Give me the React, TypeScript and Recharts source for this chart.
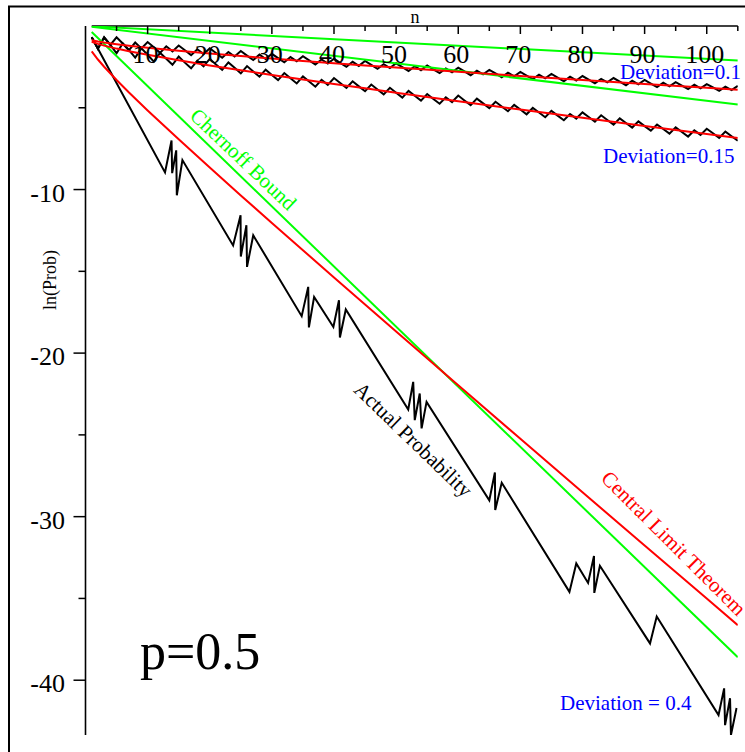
import React from 'react';
import { LineChart, Line, XAxis, YAxis, ReferenceLine } from 'recharts';

// ---------- data ----------
const nSteps = [
  1, 2, 3, 4, 5, 6, 7, 8, 9, 10, 11, 12, 13, 14, 15, 16, 17, 18, 19, 20,
  21, 22, 23, 24, 25, 26, 27, 28, 29, 30, 31, 32, 33, 34, 35, 36, 37, 38, 39, 40,
  41, 42, 43, 44, 45, 46, 47, 48, 49, 50, 51, 52, 53, 54, 55, 56, 57, 58, 59, 60,
  61, 62, 63, 64, 65, 66, 67, 68, 69, 70, 71, 72, 73, 74, 75, 76, 77, 78, 79, 80,
  81, 82, 83, 84, 85, 86, 87, 88, 89, 90, 91, 92, 93, 94, 95, 96, 97, 98, 99, 100,
  101, 102, 103, 104, 105,
];

// Actual probability, deviation 0.1
const actual01 = [
  -0.69, -1.39, -0.69, -1.16, -0.69, -1.07, -1.48, -1.01, -1.37, -0.98,
  -1.30, -1.64, -1.24, -1.55, -1.19, -1.48, -1.78, -1.42, -1.72, -1.36,
  -1.65, -1.94, -1.59, -1.87, -1.53, -1.81, -2.08, -1.75, -2.02, -1.70,
  -1.96, -2.22, -1.90, -2.16, -1.85, -2.10, -2.36, -2.05, -2.30, -2.00,
  -2.25, -2.49, -2.19, -2.44, -2.14, -2.38, -2.62, -2.33, -2.57, -2.28,
  -2.52, -2.75, -2.46, -2.70, -2.41, -2.65, -2.88, -2.60, -2.83, -2.55,
  -2.78, -3.01, -2.73, -2.95, -2.68, -2.90, -3.13, -2.85, -3.08, -2.81,
  -3.03, -3.25, -2.98, -3.20, -2.93, -3.15, -3.38, -3.10, -3.33, -3.06,
  -3.28, -3.50, -3.23, -3.45, -3.18, -3.40, -3.62, -3.35, -3.57, -3.30,
  -3.52, -3.74, -3.47, -3.69, -3.43, -3.64, -3.85, -3.59, -3.81, -3.55,
  -3.76, -3.97, -3.71, -3.92, -3.66,
];

// Actual probability, deviation 0.15
const actual015 = [
  -0.69, -1.39, -0.69, -1.16, -1.67, -1.07, -1.48, -1.93, -1.37, -1.76,
  -2.18, -1.64, -2.00, -2.37, -1.87, -2.24, -2.59, -2.12, -2.47, -2.01,
  -2.35, -2.68, -2.23, -2.56, -2.90, -2.45, -2.78, -3.10, -2.67, -2.99,
  -3.31, -2.88, -3.20, -3.51, -3.08, -3.40, -3.71, -3.29, -3.60, -3.18,
  -3.49, -3.79, -3.38, -3.69, -3.99, -3.58, -3.88, -4.18, -3.78, -4.08,
  -4.38, -3.97, -4.27, -4.56, -4.16, -4.46, -4.75, -4.36, -4.65, -4.25,
  -4.55, -4.84, -4.44, -4.73, -5.02, -4.63, -4.92, -5.21, -4.82, -5.11,
  -5.40, -5.01, -5.29, -5.58, -5.19, -5.48, -5.76, -5.38, -5.66, -5.28,
  -5.56, -5.85, -5.46, -5.75, -6.03, -5.65, -5.93, -6.21, -5.83, -6.12,
  -6.40, -6.02, -6.30, -6.58, -6.20, -6.48, -6.76, -6.38, -6.66, -6.28,
  -6.56, -6.84, -6.46, -6.74, -7.02,
];

// Actual probability, deviation 0.4 (vertices)
const n04 = [
  1, 12.8, 13.85, 13.95, 14.6, 14.7, 15.6, 23.76, 24.96, 25.0, 25.9, 26.0, 27.0,
  34.8, 35.85, 35.96, 36.8, 39.9, 40.8, 40.95, 41.9, 51.95, 52.75, 53.0, 53.8,
  54.1, 54.9, 65.0, 65.9, 65.95, 67.0, 77.9, 79.0, 80.9, 81.85, 81.9, 82.8,
  90.87, 91.95, 101.9, 102.8, 102.95, 103.75, 103.9, 104.8,
];
const actual04 = [
  -0.69, -8.95, -7.0, -9.0, -7.6, -10.35, -8.2, -13.42, -11.57, -14.1, -12.18, -14.73, -12.8,
  -17.74, -15.95, -18.43, -16.56, -18.4, -16.77, -19.05, -17.33, -23.45, -21.76, -24.1, -22.47,
  -24.6, -22.98, -29.0, -27.3, -29.6, -27.93, -34.6, -32.86, -34.05, -32.4, -34.66, -33.0,
  -37.75, -36.1, -42.13, -40.5, -42.75, -41.1, -43.35, -41.7,
];

// Central Limit Theorem curves
const nClt = [1, 2, 3, 5, 7, 10, 15, 20, 25, 30, 35, 40, 45, 50, 60, 70, 80, 90, 100, 105];
const clt01 = [-0.866, -0.945, -1.009, -1.117, -1.209, -1.333, -1.517, -1.685, -1.84, -1.99,
  -2.134, -2.273, -2.41, -2.543, -2.802, -3.054, -3.302, -3.544, -3.783, -3.9];
const clt015 = [-0.962, -1.092, -1.199, -1.382, -1.544, -1.764, -2.099, -2.409, -2.7, -2.992,
  -3.27, -3.544, -3.81, -4.077, -4.598, -5.109, -5.613, -6.115, -6.608, -6.853];
const clt04 = [-1.552, -2.048, -2.49, -3.3, -4.067, -5.167, -6.924, -8.655, -10.36, -12.04,
  -13.71, -15.375, -17.03, -18.68, -21.97, -25.24, -28.51, -31.76, -35.01, -36.64];

// Chernoff bounds (straight lines)
const nChern = [1, 105];
const chern01 = [-0.02, -2.11];
const chern015 = [-0.05, -4.8];
const chern04 = [-0.37, -38.6];

// Axis ticks
const xTicks = [5, 10, 15, 20, 25, 30, 35, 40, 45, 50, 55, 60, 65, 70, 75, 80, 85, 90, 95, 100, 105];
const yTicks = [-5, -10, -15, -20, -25, -30, -35, -40];

// ---------- layout ----------
const W = 745;
const H = 752;
const PLOT_LEFT = 85.5;
const PLOT_TOP = 26;
const SERIF = '"Liberation Serif", "Times New Roman", serif';
const BLUE = '#0000ff';
const RED = '#ff0000';
const GREEN = '#00ff00';

const rows = (xs: number[], ys: number[]) => xs.map((n, i) => ({ n, v: ys[i] }));

const dA01 = rows(nSteps, actual01);
const dA015 = rows(nSteps, actual015);
const dA04 = rows(n04, actual04);
const dC01 = rows(nClt, clt01);
const dC015 = rows(nClt, clt015);
const dC04 = rows(nClt, clt04);
const dG01 = rows(nChern, chern01);
const dG015 = rows(nChern, chern015);
const dG04 = rows(nChern, chern04);

const XTick = (props: any) => {
  const { x, payload } = props;
  const v = payload.value as number;
  const major = v % 10 === 0;
  return (
    <g>
      <line x1={x} x2={x} y1={PLOT_TOP} y2={PLOT_TOP + (major ? 8 : 5)} stroke="#000" strokeWidth={1.5} />
      {major && (
        <text x={x - 2} y={63} textAnchor="middle" fontSize={26} fontFamily={SERIF} fill="#000">
          {String(v)}
        </text>
      )}
    </g>
  );
};

const YTick = (props: any) => {
  const { y, payload } = props;
  const v = payload.value as number;
  const major = v % 10 === 0;
  return (
    <g>
      <line x1={PLOT_LEFT - (major ? 12 : 7)} x2={PLOT_LEFT} y1={y} y2={y} stroke="#000" strokeWidth={1.5} />
      {major && (
        <text x={65} y={y + 12} textAnchor="end" fontSize={26} fontFamily={SERIF} fill="#000">
          {String(v)}
        </text>
      )}
    </g>
  );
};

const Rot = ({ cx, cy, angle, color, children }: any) => (
  <g transform={`translate(${cx},${cy}) rotate(${angle})`}>
    <text x={0} y={0} dy="0.35em" textAnchor="middle" fontSize={21} fontFamily={SERIF} fill={color}>
      {children}
    </text>
  </g>
);

export default function App() {
  const lineProps = { type: 'linear' as const, dataKey: 'v', dot: false, isAnimationActive: false, activeDot: false };
  return (
    <div style={{ position: 'absolute', left: 0, top: 0, width: W, height: H, background: '#fff', overflow: 'hidden' }}>
      <LineChart width={W} height={H} margin={{ top: 0, right: 7.2, bottom: 17, left: 0 }}>
        <XAxis
          xAxisId={0}
          type="number"
          dataKey="n"
          domain={[0, 105]}
          ticks={xTicks}
          interval={0}
          orientation="top"
          height={26}
          axisLine={false}
          tickLine={false}
          tick={XTick}
          allowDataOverflow
        />
        <YAxis
          yAxisId={0}
          type="number"
          domain={[-43.35, 0]}
          ticks={yTicks}
          interval={0}
          width={PLOT_LEFT}
          axisLine={{ stroke: '#000', strokeWidth: 1.6 }}
          tickLine={false}
          tick={YTick}
          allowDataOverflow
        />
        <ReferenceLine
          xAxisId={0}
          yAxisId={0}
          segment={[{ x: 1, y: 0 }, { x: 105, y: 0 }]}
          stroke="#000"
          strokeWidth={1.6}
          ifOverflow="visible"
        />
        <Line {...lineProps} data={dA01} stroke="#000" strokeWidth={2} />
        <Line {...lineProps} data={dA015} stroke="#000" strokeWidth={2} />
        <Line {...lineProps} data={dA04} stroke="#000" strokeWidth={2} />
        <Line {...lineProps} data={dG01} stroke={GREEN} strokeWidth={2} />
        <Line {...lineProps} data={dG015} stroke={GREEN} strokeWidth={2} />
        <Line {...lineProps} data={dG04} stroke={GREEN} strokeWidth={2} />
        <Line {...lineProps} data={dC01} stroke={RED} strokeWidth={2} />
        <Line {...lineProps} data={dC015} stroke={RED} strokeWidth={2} />
        <Line {...lineProps} data={dC04} stroke={RED} strokeWidth={2} />
      </LineChart>
      <svg
        width={W}
        height={H}
        style={{ position: 'absolute', left: 0, top: 0, pointerEvents: 'none' }}
      >
        <path d={`M9,${H} L9,6.5 L${W},6.5`} fill="none" stroke="#000" strokeWidth={2} />
        <text x={415} y={23} textAnchor="middle" fontSize={18} fontFamily={SERIF} fill="#000">n</text>
        <text x={56} y={280} textAnchor="middle" fontSize={18} fontFamily={SERIF} fill="#000" transform="rotate(-90 56 280)">
          ln(Prob)
        </text>
        <text x={620} y={78.5} fontSize={21} fontFamily={SERIF} fill={BLUE}>Deviation=0.1</text>
        <text x={603} y={163} fontSize={21} fontFamily={SERIF} fill={BLUE}>Deviation=0.15</text>
        <text x={560} y={710} fontSize={21} fontFamily={SERIF} fill={BLUE}>Deviation = 0.4</text>
        <Rot cx={243.5} cy={159} angle={43.5} color={GREEN}>Chernoff Bound</Rot>
        <Rot cx={413.5} cy={439.5} angle={44} color="#000">Actual Probability</Rot>
        <Rot cx={674} cy={543} angle={45} color={RED}>Central Limit Theorem</Rot>
        <text x={140} y={669} fontSize={52} fontFamily={SERIF} fill="#000">p=0.5</text>
      </svg>
    </div>
  );
}
